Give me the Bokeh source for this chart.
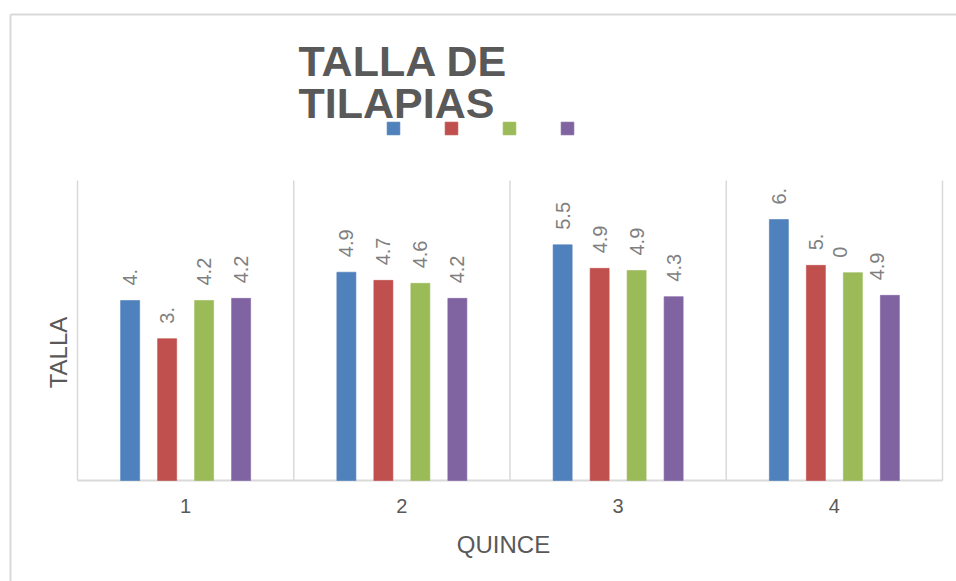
from bokeh.plotting import figure
from bokeh.models import ColumnDataSource, Legend, LegendItem
from bokeh.core.properties import value
from bokeh.transform import dodge
from bokeh.embed import file_html
from bokeh.resources import INLINE

# ---- data ----
quince = [1, 2, 3, 4]
tick_labels = ["1", "2", "3", "4"]
serie1 = [4.20, 4.86, 5.50, 6.09]
serie2 = [3.31, 4.67, 4.95, 5.02]
serie3 = [4.20, 4.60, 4.90, 4.85]
serie4 = [4.25, 4.25, 4.29, 4.32]
# data labels as printed (the last two of the 4th group are wrapped in the chart)
etiquetas1 = ["4.", "4.9", "5.5", "6."]
etiquetas2 = ["3.", "4.7", "4.9", "5."]
etiquetas3 = ["4.2", "4.6", "4.9", "0\n"]
etiquetas4 = ["4.2", "4.2", "4.3", "4.9\n"]
colores = ["#4f81bd", "#c0504d", "#9bbb59", "#8064a2"]
titulo = ["TALLA DE", "TILAPIAS"]
x_titulo = "QUINCE"
y_titulo = "TALLA"
y_max = 7

series = [serie1, serie2, serie3, serie4]
etiquetas = [etiquetas1, etiquetas2, etiquetas3, etiquetas4]
offsets = [-0.2566, -0.0855, 0.0855, 0.2566]

# ---- layout: the frame covers the whole canvas; page pixel -> data helpers ----
W, H = 956, 581
PAGE_X0, PAGE_Y0 = 0, 0
PLOT_L, PLOT_R, PLOT_T, PLOT_B = 77, 942, 180, 480   # plot area in page px
UX = (PLOT_R - PLOT_L) / len(quince)
UY = (PLOT_B - PLOT_T) / y_max


def dx(px):
    return 0.5 + (px - PLOT_L) / UX


def dy(py):
    return (PLOT_B - py) / UY


p = figure(width=W, height=H,
           x_range=(dx(PAGE_X0), dx(PAGE_X0 + W)),
           y_range=(dy(PAGE_Y0 + H), dy(PAGE_Y0)),
           output_backend="svg", toolbar_location=None,
           x_axis_location=None, y_axis_location=None,
           min_border=0)
p.outline_line_color = None
p.grid.visible = False
p.background_fill_color = "white"
p.border_fill_color = "white"

FONT = "Liberation Sans"
GRID = "#d9d9d9"

# chart border (top and left)
p.segment(x0=[dx(10), dx(10)], y0=[dy(14), dy(14)],
          x1=[dx(PAGE_X0 + W), dx(10)], y1=[dy(14), dy(PAGE_Y0 + H)],
          line_color=GRID, line_width=2)

# vertical category separators and baseline
seps = [q - 0.5 for q in quince] + [quince[-1] + 0.5]
p.segment(x0=seps, x1=seps, y0=[0] * len(seps), y1=[y_max] * len(seps),
          line_color=GRID, line_width=1.5)
p.segment(x0=[seps[0]], x1=[seps[-1]], y0=[0], y1=[0], line_color=GRID,
          line_width=2)

items = []
for s, e, off, c in zip(series, etiquetas, offsets, colores):
    src = ColumnDataSource(dict(x=quince, top=s, lab=e))
    r = p.vbar(x=dodge("x", off, range=p.x_range), top="top", width=0.088,
               source=src, fill_color=c, line_color=c, line_alpha=0.6)
    p.text(x=dodge("x", off, range=p.x_range), y="top", text="lab", source=src,
           angle=1.5708, text_align="left", text_baseline="middle",
           y_offset=-15, text_font=value(FONT), text_font_size="20px",
           text_color="#7f7f7f")
    items.append(LegendItem(label="", renderers=[r]))

legend = Legend(items=items, orientation="horizontal",
                location=(385 - PAGE_X0, PAGE_Y0 + H - 136),
                glyph_width=16, glyph_height=16, label_standoff=0,
                label_width=0, label_height=16, spacing=42, padding=0,
                margin=0, border_line_color=None, background_fill_alpha=0,
                label_text_font_size="1px")
p.add_layout(legend, "center")

# x tick labels
p.text(x=quince, y=[0] * len(quince), text=tick_labels, text_align="center",
       text_baseline="top", y_offset=18, text_font=value(FONT),
       text_font_size="20px", text_color="#595959")

# axis titles
p.text(x=[dx(503)], y=[dy(544)], text=[x_titulo], text_align="center",
       text_baseline="middle", text_font=value(FONT), text_font_size="24px",
       text_color="#595959")
p.text(x=[dx(58)], y=[dy(352)], text=[y_titulo], text_align="center",
       text_baseline="middle", angle=1.5708, text_font=value(FONT),
       text_font_size="24px", text_color="#595959")

# chart title
p.text(x=[dx(298), dx(298)], y=[dy(60), dy(102)], text=titulo,
       text_align="left", text_baseline="middle",
       text_font=value(FONT), text_font_style="bold",
       text_font_size="43px", text_color="#595959")

open("out.html", "w").write(file_html(p, INLINE))
